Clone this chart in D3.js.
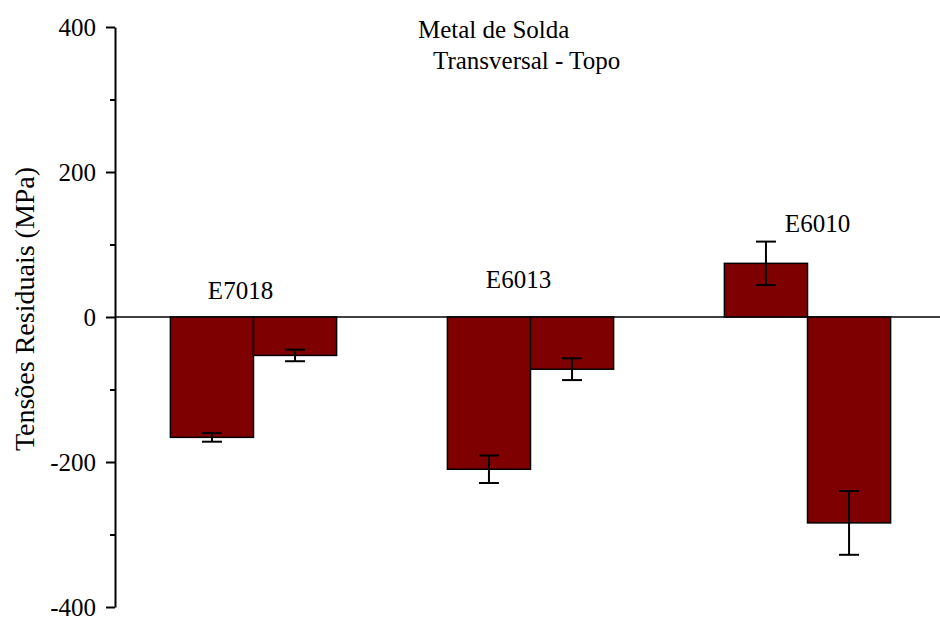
<!DOCTYPE html>
<html>
<head>
<meta charset="utf-8">
<script src="https://cdn.jsdelivr.net/npm/d3@7"></script>
<style>
  html, body { margin: 0; padding: 0; background: #fff; }
  svg text { font-family: "Liberation Serif", "Times New Roman", serif; fill: #000; }
</style>
</head>
<body>
<svg id="chart" width="940" height="618"></svg>
<script>
// ---- data ----
const categories = ["E7018", "E6013", "E6010"];
const series = ["A", "B"];
const valuesA = [-166, -210, 74];
const valuesB = [-53, -72, -284];
const errorsA = [6, 19, 30];
const errorsB = [8, 15, 44];
const yTicksMajor = [-400, -200, 0, 200, 400];
const yTicksMinor = [-300, -100, 100, 300];
const yTitle = "Tensões Residuais (MPa)";
const titleLines = ["Metal de Solda", "Transversal - Topo"];

// ---- layout ----
const svg = d3.select("#chart");
const axisX = 115;

const y = d3.scaleLinear().domain([-400, 400]).range([607, 27]);
const x = d3.scaleBand().domain(categories).range([axisX, 946])
  .paddingInner(0.4).paddingOuter(0.2);
const xs = d3.scaleBand().domain(series).range([0, x.bandwidth()]);

const rows = categories.map((c, i) => ({
  cat: c,
  bars: [
    { s: "A", v: valuesA[i], e: errorsA[i] },
    { s: "B", v: valuesB[i], e: errorsB[i] }
  ]
}));

// zero line
svg.append("line")
  .attr("x1", axisX).attr("x2", 940)
  .attr("y1", y(0)).attr("y2", y(0))
  .attr("stroke", "#000").attr("stroke-width", 1.5);

// bars
const g = svg.selectAll("g.grp").data(rows).enter().append("g")
  .attr("class", "grp")
  .attr("transform", d => `translate(${x(d.cat)},0)`);

g.selectAll("rect").data(d => d.bars).enter().append("rect")
  .attr("x", d => xs(d.s))
  .attr("width", xs.bandwidth())
  .attr("y", d => y(Math.max(0, d.v)))
  .attr("height", d => Math.abs(y(d.v) - y(0)))
  .attr("fill", "#7f0000")
  .attr("stroke", "#000")
  .attr("stroke-width", 1.5);

// error bars
const eb = g.selectAll("g.err").data(d => d.bars).enter().append("g")
  .attr("class", "err")
  .attr("stroke", "#000").attr("stroke-width", 2);
const capW = 10;
eb.append("line")
  .attr("x1", d => xs(d.s) + xs.bandwidth() / 2)
  .attr("x2", d => xs(d.s) + xs.bandwidth() / 2)
  .attr("y1", d => y(d.v + d.e)).attr("y2", d => y(d.v - d.e));
eb.append("line")
  .attr("x1", d => xs(d.s) + xs.bandwidth() / 2 - capW)
  .attr("x2", d => xs(d.s) + xs.bandwidth() / 2 + capW)
  .attr("y1", d => y(d.v + d.e)).attr("y2", d => y(d.v + d.e));
eb.append("line")
  .attr("x1", d => xs(d.s) + xs.bandwidth() / 2 - capW)
  .attr("x2", d => xs(d.s) + xs.bandwidth() / 2 + capW)
  .attr("y1", d => y(d.v - d.e)).attr("y2", d => y(d.v - d.e));

// y axis
const yAxis = d3.axisLeft(y).tickValues(yTicksMajor).tickSize(9).tickSizeOuter(0)
  .tickPadding(10).tickFormat(d => String(d));
const ya = svg.append("g").attr("transform", `translate(${axisX},0)`).call(yAxis);
ya.select(".domain").attr("stroke", "#000").attr("stroke-width", 2);
ya.selectAll(".tick line").attr("stroke", "#000").attr("stroke-width", 2);
ya.selectAll(".tick text").attr("font-size", 25)
  .style("font-family", "'Liberation Serif', 'Times New Roman', serif").attr("fill", "#000");

const yMinor = d3.axisLeft(y).tickValues(yTicksMinor).tickSize(5).tickFormat("");
const ym = svg.append("g").attr("transform", `translate(${axisX},0)`).call(yMinor);
ym.select(".domain").remove();
ym.selectAll(".tick line").attr("stroke", "#000").attr("stroke-width", 2);

// y title
svg.append("text")
  .attr("transform", `translate(34,${(y(400) + y(-400)) / 2 - 8}) rotate(-90)`)
  .attr("text-anchor", "middle")
  .attr("font-size", 28)
  .text(yTitle);

// chart title
svg.append("text").attr("x", 418).attr("y", 38).attr("font-size", 25).text(titleLines[0]);
svg.append("text").attr("x", 433).attr("y", 69).attr("font-size", 25).text(titleLines[1]);

// category labels (annotations: offset from group centre, height in data units)
const labelPos = { E7018: { dx: -13, v: 25 }, E6013: { dx: -12, v: 40 }, E6010: { dx: 10, v: 117 } };
svg.selectAll("text.cat").data(categories).enter().append("text")
  .attr("class", "cat")
  .attr("x", d => x(d) + x.bandwidth() / 2 + labelPos[d].dx)
  .attr("y", d => y(labelPos[d].v))
  .attr("text-anchor", "middle")
  .attr("font-size", 25)
  .text(d => d);
</script>
</body>
</html>
